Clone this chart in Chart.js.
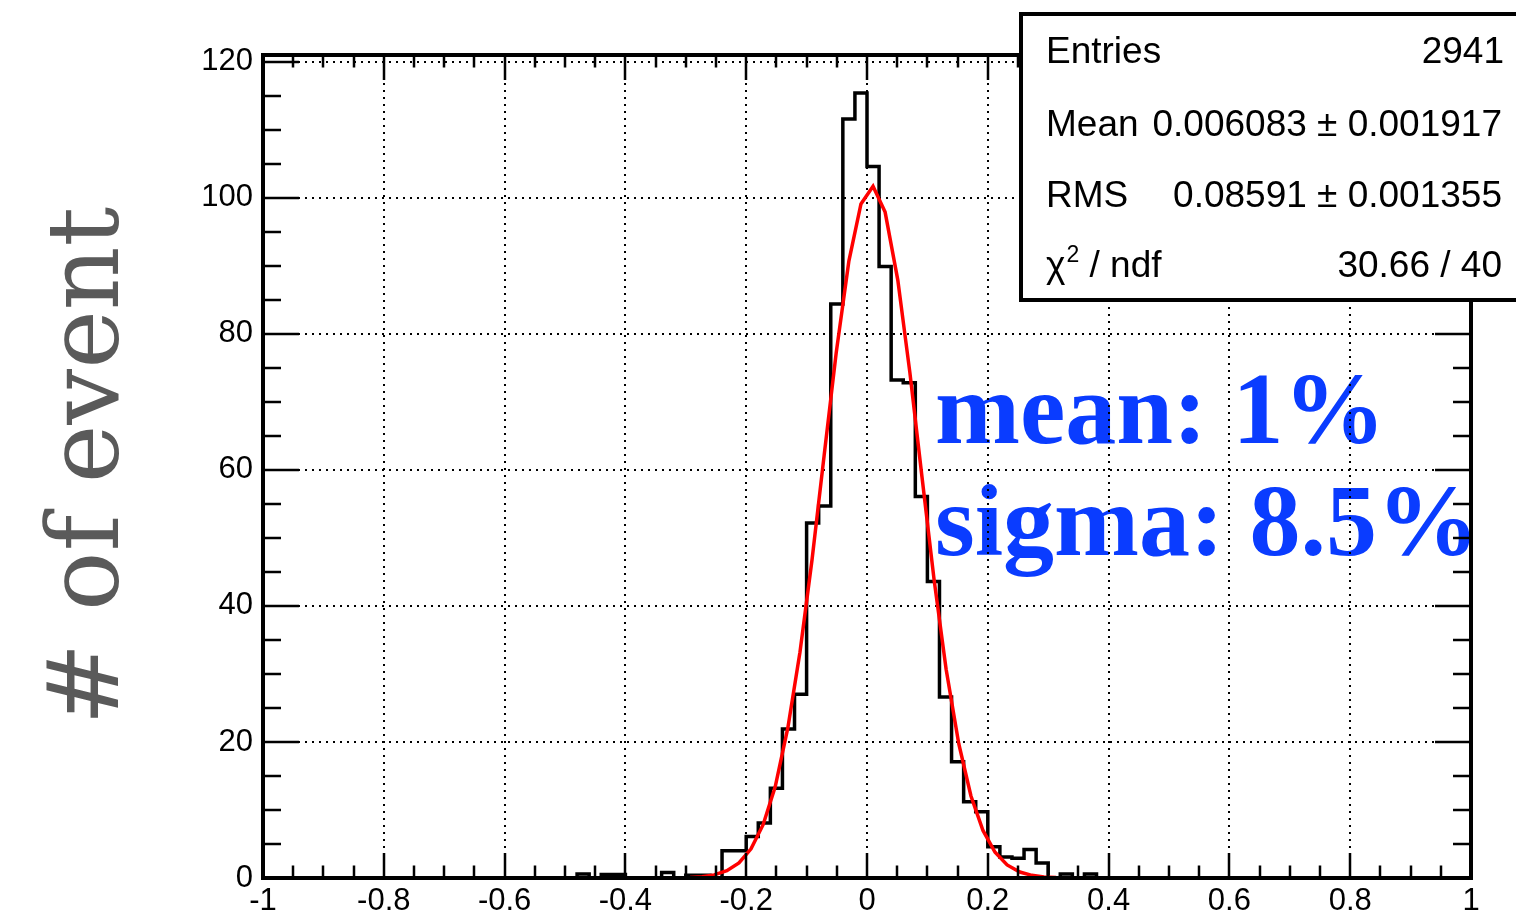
<!DOCTYPE html>
<html>
<head>
<meta charset="utf-8">
<script src="https://cdn.jsdelivr.net/npm/chart.js@4.4.0/dist/chart.umd.min.js"></script>
<style>
  html, body { margin: 0; padding: 0; background: #fff; }
  canvas { display: block; }
</style>
</head>
<body>
<canvas id="residualHist" width="1516" height="918"></canvas>
<script>
    // 100 bins of width 0.02 between -1 and 1
    const binStart = -1;
    const binWidth = 0.02;
    const counts = [
        0, 0, 0, 0, 0, 0, 0, 0, 0, 0,                               // -1.00 .. -0.82
        0, 0, 0, 0, 0, 0, 0, 0, 0, 0,                               // -0.80 .. -0.62
        0, 0, 0, 0, 0, 0, 0.6, 0, 0.5, 0.5,                         // -0.60 .. -0.42
        0, 0, 0, 0.8, 0, 0.4, 0.4, 0, 4, 4,                         // -0.40 .. -0.22
        6.1, 8.1, 13.2, 21.9, 27, 52.2, 54.7, 84.4, 111.6, 115.4,   // -0.20 .. -0.02
        104.6, 89.9, 73.2, 72.8, 56.1, 43.6, 26.6, 17.1, 11.2, 9.75,// 0.00 .. 0.18
        4.6, 3.1, 2.9, 4.2, 2.2, 0, 0.6, 0, 0.6, 0,                 // 0.20 .. 0.38
        0, 0, 0, 0, 0, 0, 0, 0, 0, 0,                               // 0.40 .. 0.58
        0, 0, 0, 0, 0, 0, 0, 0, 0, 0,                               // 0.60 .. 0.78
        0, 0, 0, 0, 0, 0, 0, 0, 0, 0                                // 0.80 .. 0.98
    ];

    // gaus fit, as drawn
    const fitX = [-1, -0.333, -0.313, -0.293, -0.273, -0.253, -0.232, -0.212, -0.192, -0.172,
        -0.152, -0.131, -0.111, -0.091, -0.071, -0.051, -0.030, -0.010, 0.010, 0.030,
        0.051, 0.071, 0.091, 0.111, 0.131, 0.152, 0.172, 0.192, 0.212, 0.232,
        0.253, 0.273, 0.293, 0.313, 0.333, 1];
    const fitY = [0, 0.01, 0.03, 0.08, 0.20, 0.46, 1.07, 2.21, 4.29, 7.84,
        13.4, 22.1, 33.2, 46.8, 62.1, 77.2, 90.7, 99.1, 101.7, 97.9,
        87.9, 74.3, 59.0, 43.9, 30.7, 19.7, 12.1, 6.99, 3.78, 1.92,
        0.88, 0.39, 0.16, 0.06, 0.02, 0];

    const statNames = ['Entries', 'Mean', 'RMS', 'ndf'];
    const statValues = ['2941', '0.006083 \u00b1 0.001917', '0.08591 \u00b1 0.001355', '30.66 / 40'];

    const yTitle = '# of event';
    const notes = ['mean: 1%', 'sigma: 8.5%'];

    const histPoints = counts.map((c, i) => ({ x: binStart + i * binWidth, y: c }));
    histPoints.push({ x: 1, y: counts[counts.length - 1] });
    const fitPoints = fitX.map((x, i) => ({ x: x, y: fitY[i] }));

    const sansFont = '"Liberation Sans", Arial, sans-serif';

    const rootStyle = {
        id: 'rootStyle',
        beforeDraw(chart) {
            const ctx = chart.ctx;
            ctx.save();
            ctx.fillStyle = '#fff';
            ctx.fillRect(0, 0, chart.width, chart.height);

            // axis title
            ctx.translate(118, 466);
            ctx.rotate(-Math.PI / 2);
            ctx.fillStyle = '#5a5a5a';
            ctx.font = '99px "DejaVu Serif", serif';
            ctx.textAlign = 'center';
            ctx.textBaseline = 'alphabetic';
            ctx.fillText(yTitle, 0, 0);
            ctx.restore();

            ctx.save();
            ctx.fillStyle = '#0a3cff';
            ctx.font = 'bold 102px "Liberation Serif", serif';
            ctx.textBaseline = 'alphabetic';
            ctx.fillText(notes[0], 935, 443);
            ctx.fillText(notes[1], 935, 555);
            ctx.restore();
        },
        afterDatasetsDraw(chart) {
            const { ctx, chartArea: a, scales: { x, y } } = chart;
            ctx.save();
            ctx.strokeStyle = '#000';
            ctx.lineWidth = 2.5;
            ctx.beginPath();
            for (let k = 0; k <= 40; k++) {
                const px = Math.round(x.getPixelForValue(-1 + k * 0.05));
                const len = k % 4 === 0 ? 25 : 12.5;
                ctx.moveTo(px, a.bottom); ctx.lineTo(px, a.bottom - len);
                ctx.moveTo(px, a.top); ctx.lineTo(px, a.top + len);
            }
            for (let k = 0; k <= 24; k++) {
                const py = Math.round(y.getPixelForValue(k * 5));
                const len = k % 4 === 0 ? 36 : 18;
                ctx.moveTo(a.left, py); ctx.lineTo(a.left + len, py);
                ctx.moveTo(a.right, py); ctx.lineTo(a.right - len, py);
            }
            ctx.stroke();
            ctx.lineWidth = 4;
            ctx.strokeRect(a.left, a.top, a.right - a.left, a.bottom - a.top);
            ctx.restore();
        },
        afterDraw(chart) {
            const ctx = chart.ctx;
            ctx.save();
            // stats box
            ctx.fillStyle = '#fff';
            ctx.fillRect(1021, 14, 530, 286);
            ctx.strokeStyle = '#000';
            ctx.lineWidth = 4;
            ctx.strokeRect(1021, 14, 530, 286);

            ctx.fillStyle = '#000';
            ctx.font = '37px ' + sansFont;
            ctx.textBaseline = 'alphabetic';
            const rows = [63, 136, 207, 277];
            for (let i = 0; i < 3; i++) {
                ctx.textAlign = 'left';
                ctx.fillText(statNames[i], 1046, rows[i]);
                ctx.textAlign = 'right';
                ctx.fillText(statValues[i], i === 0 ? 1504 : 1502, rows[i]);
            }
            // chi2 / ndf
            ctx.textAlign = 'left';
            ctx.fillText('\u03c7', 1046, rows[3]);
            let cx = 1046 + ctx.measureText('\u03c7').width;
            ctx.font = '23px ' + sansFont;
            ctx.fillText('2', cx + 1, rows[3] - 15);
            cx += ctx.measureText('2').width + 1;
            ctx.font = '37px ' + sansFont;
            ctx.fillText(' / ' + statNames[3], cx, rows[3]);
            ctx.textAlign = 'right';
            ctx.fillText(statValues[3], 1502, rows[3]);
            ctx.restore();
        }
    };

    const ctx = document.getElementById('residualHist').getContext('2d');
    const histChart = new Chart(ctx, {
        type: 'line',
        data: {
            datasets: [{
                label: 'fit',
                data: fitPoints,
                borderColor: '#ff0000',
                borderWidth: 3.5,
                pointRadius: 0,
                tension: 0,
                order: 0
            }, {
                label: 'hist',
                data: histPoints,
                borderColor: '#000',
                borderWidth: 3.5,
                pointRadius: 0,
                stepped: 'before',
                order: 1
            }]
        },
        options: {
            responsive: false,
            animation: false,
            devicePixelRatio: 1,
            layout: { padding: { top: 55, right: 45, bottom: 0, left: 0 } },
            plugins: { legend: { display: false }, tooltip: { enabled: false } },
            scales: {
                x: {
                    type: 'linear',
                    min: -1,
                    max: 1,
                    afterFit(scale) { scale.height = 40; },
                    grid: { color: '#000', lineWidth: 2, drawTicks: false },
                    border: { display: false, dash: [2, 5] },
                    ticks: {
                        stepSize: 0.2,
                        padding: 5,
                        color: '#000',
                        font: { family: sansFont, size: 31 },
                        callback: v => String(Number(v.toFixed(1)))
                    }
                },
                y: {
                    type: 'linear',
                    min: 0,
                    max: 121,
                    afterFit(scale) { scale.width = 263; },
                    grid: { color: '#000', lineWidth: 2, drawTicks: false },
                    border: { display: false, dash: [2, 5] },
                    ticks: {
                        stepSize: 20,
                        includeBounds: false,
                        padding: 10,
                        color: '#000',
                        font: { family: sansFont, size: 31 }
                    }
                }
            }
        },
        plugins: [rootStyle]
    });
</script>
</body>
</html>
